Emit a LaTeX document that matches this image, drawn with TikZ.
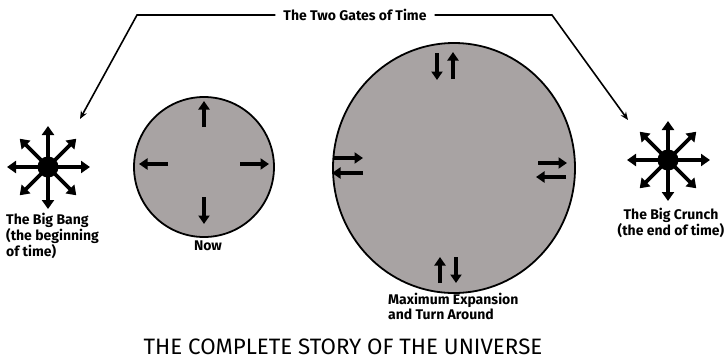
\documentclass[tikz,border=0pt]{standalone}
\usepackage{fontspec}
\setmainfont{Fira Sans}
\usetikzlibrary{arrows.meta,calc,shapes.geometric}
\definecolor{disc}{RGB}{168,163,163}
\tikzset{
  ray/.style={line width=3.4pt,-{Triangle[width=11pt,length=8.5pt]}},
  burst/.style={line width=3.6pt,-{Triangle[width=12pt,length=9pt]}},
  conn/.style={line width=1.6pt,-{Stealth[length=8pt,width=6.5pt]}},
  disk/.style={draw=black,line width=1.8pt,fill=disc},
  lbl/.style={font=\fontsize{14pt}{15pt}\selectfont\bfseries,inner sep=0pt},
}
\begin{document}
\begin{tikzpicture}[x=1pt,y=-1pt]
\useasboundingbox (0,0) rectangle (724,360);
% Big Bang
\node[circle,fill=black,minimum size=21pt,inner sep=0pt] (bang) at (48,167) {};
\foreach \a/\r in {0/42,90/42,180/41,270/41,45/40,135/40,225/40,315/40}{
  \draw[burst] ($(bang)+(\a:10)$) -- ($(bang)+(\a:\r)$);
}
\node[lbl,align=left,anchor=north west] (banglbl) at (6,213) {The Big Bang\\(the beginning\\of time)};
% Big Crunch
\node[circle,fill=black,minimum size=21pt,inner sep=0pt] (crunch) at (668,160) {};
\foreach \a/\r in {0/42,90/41,180/41,270/39,45/40,135/40,225/40,315/40}{
  \draw[burst] ($(crunch)+(\a:10)$) -- ($(crunch)+(\a:\r)$);
}
\node[lbl,align=center,anchor=north] (crunchlbl) at (671,208) {The Big Crunch\\(the end of time)};
% Now
\node[disk,circle,minimum size=140pt,inner sep=0pt] (now) at (204,167) {};
\draw[ray] (204,127) -- (204,101);
\draw[ray] (204,197) -- (204,224);
\draw[ray] (168,164) -- (139,164);
\draw[ray] (240,164) -- (269,164);
\node[lbl,anchor=north] (nowlbl) at (208,241) {Now};
% Maximum expansion
\node[disk,ellipse,minimum width=242pt,minimum height=250pt,inner sep=0pt] (max) at (454,168) {};
\draw[ray] (437,53) -- (437,80);
\draw[ray] (453,79) -- (453,52);
\draw[ray] (440,283) -- (440,257);
\draw[ray] (456,257) -- (456,283);
\draw[ray] (334,158) -- (363,158);
\draw[ray] (363,173) -- (332,173);
\draw[ray] (538,163) -- (567,163);
\draw[ray] (566,177) -- (536,177);
\node[lbl,align=left,anchor=north west] (maxlbl) at (388,293) {Maximum Expansion\\and Turn Around};
% Gates
\node[lbl] (gates) at (355,15) {The Two Gates of Time};
\coordinate (lbend) at (137,15);
\coordinate (rbend) at (552,15);
\draw[conn] ($(gates.west)+(-8,0)$) -- (lbend) -- (80,119);
\draw[conn] ($(gates.east)+(8,0)$) -- (rbend) -- (628,120);
% Title
\node[font=\fontsize{22.3pt}{24pt}\selectfont,inner sep=0pt] (title) at (343,347) {THE COMPLETE STORY OF THE UNIVERSE};
\end{tikzpicture}
\end{document}
